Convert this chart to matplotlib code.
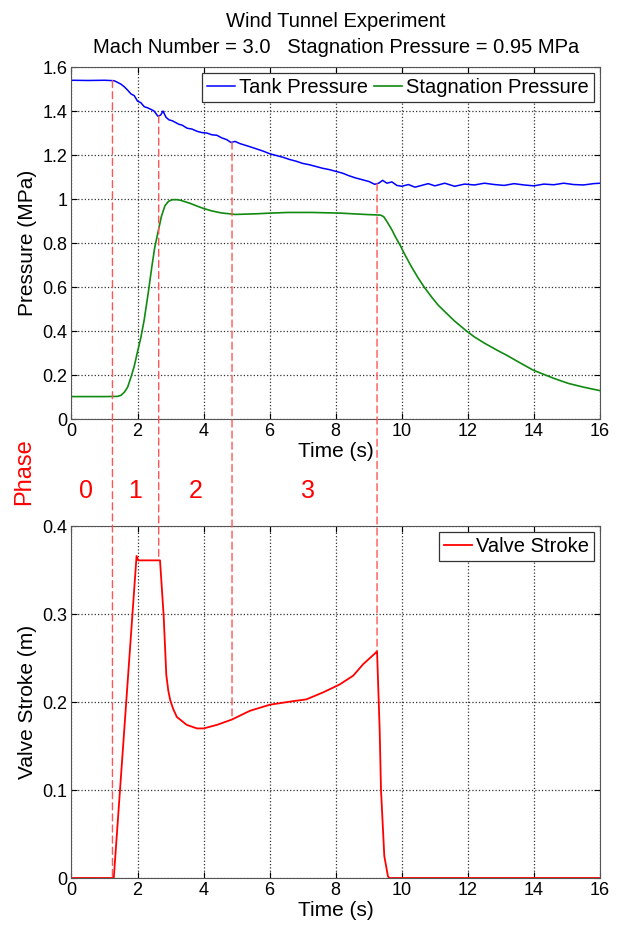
import numpy as np
import matplotlib
matplotlib.use('Agg')
import matplotlib.pyplot as plt
from matplotlib.patches import ConnectionPatch
from matplotlib.ticker import FormatStrFormatter

plt.rcParams['font.family'] = ['Liberation Sans', 'DejaVu Sans']

# tank pressure (MPa)
tank_t = [0, 0.5, 1.0, 1.29, 1.40, 1.50, 1.60, 1.70, 1.80, 1.90,
          2.00, 2.10, 2.20, 2.30, 2.40, 2.50, 2.62, 2.70, 2.77, 2.86,
          2.95, 3.05, 3.15, 3.25, 3.35, 3.50, 3.65, 3.80, 3.95, 4.10,
          4.25, 4.40, 4.55, 4.70, 4.83, 4.95, 5.10, 5.25, 5.40, 5.60,
          5.80, 6.00, 6.20, 6.40, 6.60, 6.80, 7.00, 7.20, 7.40, 7.60,
          7.80, 8.00, 8.20, 8.40, 8.60, 8.80, 9.00, 9.18, 9.30, 9.42,
          9.55, 9.70, 9.85, 10.0, 10.2, 10.4, 10.6, 10.8, 11.0, 11.3,
          11.6, 11.9, 12.2, 12.5, 12.8, 13.1, 13.4, 13.7, 14.0, 14.3,
          14.6, 14.9, 15.2, 15.5, 15.8, 16.0]
tank_p = [1.540, 1.539, 1.540, 1.538, 1.530, 1.522, 1.510, 1.495, 1.478, 1.470,
          1.445, 1.438, 1.420, 1.415, 1.408, 1.400, 1.376, 1.382, 1.400, 1.372,
          1.360, 1.356, 1.348, 1.340, 1.336, 1.322, 1.318, 1.308, 1.302, 1.300,
          1.292, 1.290, 1.278, 1.270, 1.257, 1.262, 1.252, 1.245, 1.238, 1.228,
          1.218, 1.206, 1.198, 1.190, 1.180, 1.172, 1.162, 1.156, 1.148, 1.140,
          1.134, 1.126, 1.118, 1.106, 1.096, 1.088, 1.080, 1.067, 1.072, 1.085,
          1.072, 1.078, 1.062, 1.058, 1.066, 1.054, 1.062, 1.070, 1.060, 1.072,
          1.058, 1.068, 1.064, 1.072, 1.066, 1.062, 1.070, 1.064, 1.060, 1.068,
          1.065, 1.072, 1.066, 1.064, 1.070, 1.072]

# stagnation pressure (MPa)
stag_t = [0, 1.0, 1.40, 1.50, 1.60, 1.70, 1.80, 1.90, 1.99, 2.10,
          2.20, 2.32, 2.43, 2.52, 2.62, 2.72, 2.83, 2.94, 3.05, 3.20,
          3.31, 3.60, 3.80, 4.00, 4.25, 4.53, 4.96, 5.60, 6.00, 6.55,
          7.29, 8.14, 8.89, 9.36, 9.45, 9.52, 9.60, 9.70, 9.80, 9.95,
          10.1, 10.3, 10.5, 10.69, 10.9, 11.1, 11.33, 11.6, 11.96, 12.2,
          12.5, 12.92, 13.2, 13.5, 13.98, 14.3, 14.6, 15.04, 15.5, 16.0]
stag_p = [0.102, 0.102, 0.103, 0.108, 0.122, 0.145, 0.19, 0.24, 0.30, 0.37,
          0.45, 0.57, 0.69, 0.78, 0.85, 0.92, 0.97, 0.99, 0.997, 0.997,
          0.994, 0.980, 0.968, 0.957, 0.946, 0.937, 0.930, 0.933, 0.936, 0.939,
          0.939, 0.936, 0.930, 0.927, 0.92, 0.905, 0.885, 0.86, 0.83, 0.79,
          0.745, 0.69, 0.64, 0.597, 0.555, 0.518, 0.484, 0.445, 0.40, 0.373,
          0.345, 0.31, 0.288, 0.262, 0.222, 0.203, 0.185, 0.162, 0.145, 0.129]

# valve stroke (m)
valve_t = [0, 1.28, 1.97, 2.02, 2.68, 2.79, 2.87, 2.93, 2.99, 3.08,
           3.19, 3.49, 3.80, 4.00, 4.40, 4.85, 5.40, 6.01, 6.71, 7.11,
           7.62, 8.12, 8.53, 8.83, 9.21, 9.25, 9.33, 9.37, 9.47, 9.58,
           9.62, 16.0]
valve_s = [0, 0, 0.366, 0.361, 0.361, 0.298, 0.231, 0.213, 0.202, 0.192,
           0.183, 0.174, 0.170, 0.170, 0.174, 0.180, 0.190, 0.197, 0.201, 0.203,
           0.211, 0.220, 0.230, 0.243, 0.256, 0.258, 0.168, 0.10, 0.025, 0.002,
           0.0, 0.0]

# phase boundaries and labels
phase_bounds = [1.24, 2.64, 4.86, 9.25]
phase_names = ['0', '1', '2', '3']
phase_x = [0.45, 1.92, 3.75, 7.15]

fig = plt.figure(figsize=(6.19, 9.25), dpi=100)
ax1 = fig.add_axes([0.1155, 0.547, 0.8538, 0.3805])
ax2 = fig.add_axes([0.1155, 0.0508, 0.8538, 0.3805])

ax1.plot(tank_t, tank_p, color='#0000ff', lw=1.1, label='Tank Pressure')
ax1.plot(stag_t, stag_p, color='#108a10', lw=1.2, label='Stagnation Pressure')
ax2.plot(valve_t, valve_s, color='#ff0000', lw=1.3, label='Valve Stroke')

ax1.set_xlim(0, 16)
ax1.set_ylim(0, 1.6)
ax1.set_yticks(np.arange(0, 1.61, 0.2))
ax2.set_xlim(0, 16)
ax2.set_ylim(0, 0.4)
ax2.set_yticks([0, 0.1, 0.2, 0.3, 0.4])

for ax in (ax1, ax2):
    ax.set_xticks(range(0, 17, 2))
    ax.yaxis.set_major_formatter(FormatStrFormatter('%g'))
    ax.grid(True, linestyle=':', color='#333333', linewidth=0.9)
    ax.tick_params(direction='in', top=True, right=True, length=4,
                   labelsize=13, pad=3)
    for s in ax.spines.values():
        s.set_color('#555555')
    ax.set_xlabel('Time (s)', fontsize=15, labelpad=1)

ax1.set_ylabel('Pressure (MPa)', fontsize=15, labelpad=4)
ax2.set_ylabel('Valve Stroke (m)', fontsize=15, labelpad=4)

ax1.set_title('Wind Tunnel Experiment\nMach Number = 3.0   Stagnation Pressure = 0.95 MPa',
              fontsize=14.5, pad=10, linespacing=1.45)

leg1 = ax1.legend(loc='upper right', ncol=2, fontsize=14.5, fancybox=False,
                  edgecolor='#333333', framealpha=1, handlelength=1.4,
                  handletextpad=0.2, columnspacing=0.3, borderpad=0.25,
                  borderaxespad=0.3)
leg2 = ax2.legend(loc='upper right', fontsize=14.5, fancybox=False,
                  edgecolor='#333333', framealpha=1, handlelength=1.4,
                  handletextpad=0.2, borderpad=0.25, borderaxespad=0.3)
for leg in (leg1, leg2):
    leg.get_frame().set_linewidth(0.9)

# dashed phase boundaries running from the tank curve to the valve curve
for xb in phase_bounds:
    y_top = np.interp(xb, tank_t, tank_p)
    y_bot = np.interp(xb, valve_t, valve_s)
    con = ConnectionPatch(xyA=(xb, y_top), coordsA=ax1.transData,
                          xyB=(xb, y_bot), coordsB=ax2.transData,
                          color='#ff5555', lw=1.0, linestyle=(0, (5, 3)),
                          zorder=5)
    fig.add_artist(con)

fig.text(0.039, 0.49, 'Phase', color='red', fontsize=17, rotation=90,
         ha='center', va='center')
for name, xp in zip(phase_names, phase_x):
    fig.text(ax1.transData.transform((xp, 0))[0] / fig.bbox.width, 0.469, name,
             color='red', fontsize=18, ha='center', va='center')

fig.savefig('out.png', dpi=100)
